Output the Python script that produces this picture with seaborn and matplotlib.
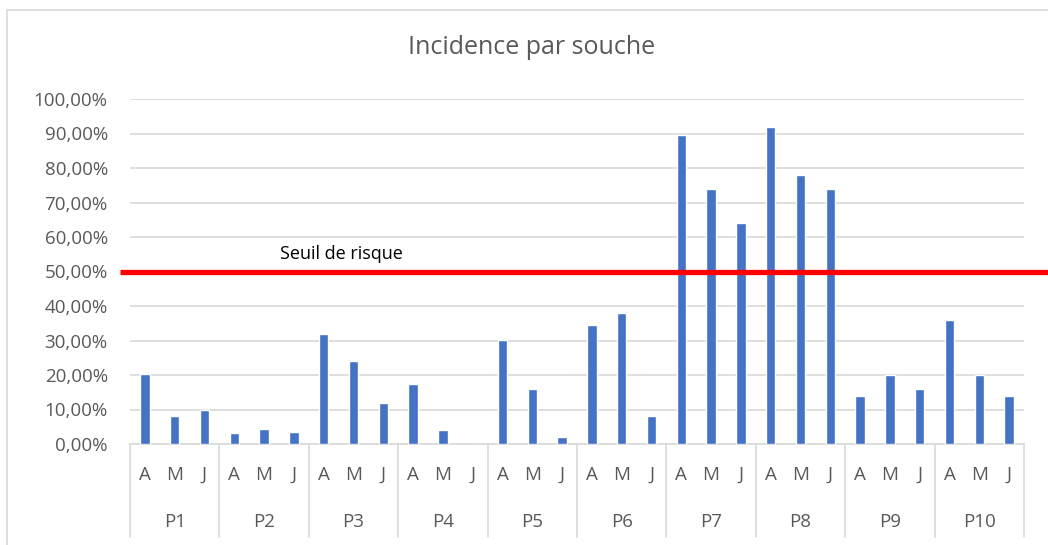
import pandas as pd
import matplotlib.pyplot as plt
import seaborn as sns
from matplotlib.ticker import FuncFormatter
from matplotlib.lines import Line2D

# ======================================================================
# DATA
# ======================================================================
PARCELLES = ['P1', 'P2', 'P3', 'P4', 'P5', 'P6', 'P7', 'P8', 'P9', 'P10']
MOIS = ['A', 'M', 'J']
INCIDENCE = [
    0.204, 0.080, 0.100,   # P1
    0.032, 0.044, 0.036,   # P2
    0.320, 0.240, 0.120,   # P3
    0.174, 0.040, 0.000,   # P4
    0.302, 0.160, 0.020,   # P5
    0.344, 0.380, 0.080,   # P6
    0.896, 0.740, 0.640,   # P7
    0.920, 0.780, 0.740,   # P8
    0.140, 0.200, 0.160,   # P9
    0.360, 0.200, 0.140,   # P10
]
SEUIL = 0.50
SEUIL_LABEL = 'Seuil de risque'
TITRE = 'Incidence par souche'

BLEU = '#4472c4'
GRIS_TXT = '#595959'
GRIS_LIGNE = '#d9d9d9'


def run_plot():
    rows = []
    for i, p in enumerate(PARCELLES):
        for j, m in enumerate(MOIS):
            rows.append({'cle': f'{p}-{m}', 'parcelle': p, 'mois': m,
                         'incidence': INCIDENCE[i * 3 + j]})
    df = pd.DataFrame(rows)

    sns.set_style('white')
    plt.rcParams['font.family'] = ['Open Sans', 'DejaVu Sans']

    fig = plt.figure(figsize=(10.48, 5.45), dpi=100)
    ax = fig.add_axes([130 / 1048, 1 - 444 / 545, 894 / 1048, 345 / 545])

    sns.barplot(data=df, x='cle', y='incidence', color=BLEU, width=0.32,
                saturation=1, ax=ax, zorder=3)

    ax.set_ylim(0, 1.0)
    ax.set_xlim(-0.5, len(df) - 0.5)
    ax.set_yticks([k / 10 for k in range(11)])
    ax.yaxis.set_major_formatter(FuncFormatter(lambda v, _: f'{v * 100:.2f}%'.replace('.', ',')))
    ax.tick_params(axis='y', labelsize=13.5, colors=GRIS_TXT, length=0, pad=16)
    ax.set_xticks([])
    ax.set_xlabel('')
    ax.set_ylabel('')
    ax.grid(axis='y', color=GRIS_LIGNE, lw=1.2, zorder=0)
    for s in ['top', 'right', 'left']:
        ax.spines[s].set_visible(False)
    ax.spines['bottom'].set_color(GRIS_LIGNE)
    ax.spines['bottom'].set_linewidth(1.2)

    # Axe multi-niveaux (mois / parcelle)
    trans = ax.get_xaxis_transform()
    for k, r in df.iterrows():
        ax.text(k, -0.09, r['mois'], transform=trans, ha='center', va='center',
                fontsize=13.5, color=GRIS_TXT)
    for i, p in enumerate(PARCELLES):
        ax.text(i * 3 + 1, -0.225, p, transform=trans, ha='center', va='center',
                fontsize=13.5, color=GRIS_TXT)
    for i in range(len(PARCELLES) + 1):
        ax.plot([i * 3 - 0.5, i * 3 - 0.5], [0, -0.27], transform=trans,
                color=GRIS_LIGNE, lw=1.2, clip_on=False)

    # Seuil de risque
    ax.plot([-0.011, 1.03], [SEUIL, SEUIL], transform=ax.get_yaxis_transform(),
            color='#ff0000', lw=3.8, clip_on=False, zorder=4, solid_capstyle='butt')
    ax.text(6.6, SEUIL + 0.025, SEUIL_LABEL, ha='center', va='bottom',
            fontsize=13, color='black', zorder=5)

    # Titre et cadre du graphique
    fig.text(532 / 1048, 1 - 47 / 545, TITRE, ha='center', va='center',
             fontsize=18, color=GRIS_TXT)
    fig.add_artist(Line2D([7 / 1048, 7 / 1048], [0, 1 - 10 / 545],
                          color=GRIS_LIGNE, lw=1.2))
    fig.add_artist(Line2D([7 / 1048, 1], [1 - 10 / 545, 1 - 10 / 545],
                          color=GRIS_LIGNE, lw=1.2))

    fig.savefig('out.png', dpi=100)


if __name__ == '__main__':
    run_plot()
